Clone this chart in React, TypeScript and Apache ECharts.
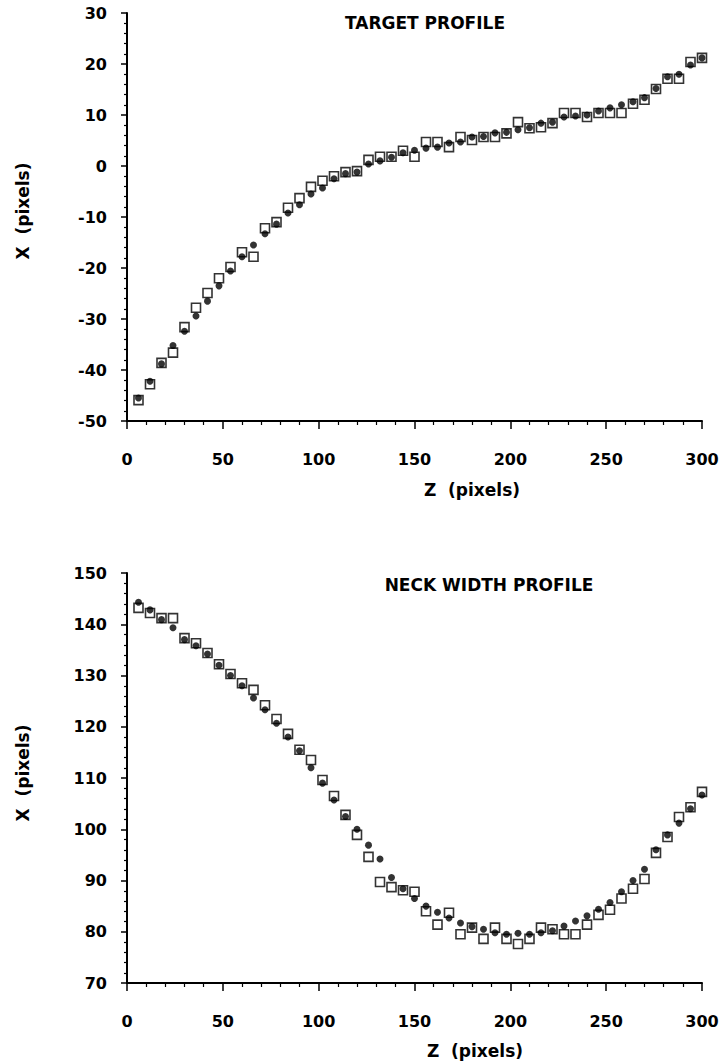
import React, { useEffect, useRef } from "react";
import * as echarts from "echarts";

// Z positions (pixels) of the sampled points
const zValues = [
  6, 12, 18, 24, 30, 36, 42, 48, 54, 60, 66, 72, 78, 84, 90, 96, 102, 108, 114, 120,
  126, 132, 138, 144, 150, 156, 162, 168, 174, 180, 186, 192, 198, 204, 210, 216, 222, 228, 234, 240,
  246, 252, 258, 264, 270, 276, 282, 288, 294, 300,
];

// TARGET PROFILE
const targetSquares = [
  -45.9, -42.8, -38.6, -36.6, -31.6, -27.8, -24.9, -22.0, -19.8, -16.9,
  -17.8, -12.2, -11.0, -8.2, -6.3, -4.1, -2.9, -2.0, -1.2, -1.0,
  1.2, 1.8, 1.8, 3.0, 1.8, 4.7, 4.7, 3.7, 5.7, 5.1,
  5.7, 5.7, 6.4, 8.6, 7.4, 7.6, 8.4, 10.4, 10.4, 9.6,
  10.4, 10.4, 10.4, 12.2, 13.0, 15.1, 17.1, 17.1, 20.4, 21.2,
];
const targetDots = [
  -45.5, -42.2, -38.8, -35.2, -32.4, -29.4, -26.5, -23.5, -20.6, -17.8,
  -15.5, -13.3, -11.4, -9.2, -7.6, -5.5, -4.3, -2.5, -1.5, -1.2,
  0.4, 1.0, 1.7, 2.6, 3.1, 3.5, 3.7, 4.5, 4.7, 5.7,
  5.8, 6.5, 6.6, 7.1, 7.5, 8.4, 8.6, 9.6, 9.8, 10.0,
  10.8, 11.4, 12.0, 12.6, 13.4, 15.2, 17.5, 18.0, 19.8, 21.2,
];

// NECK WIDTH PROFILE
const neckSquares = [
  143.2, 142.2, 141.2, 141.2, 137.3, 136.3, 134.4, 132.2, 130.3, 128.5,
  127.2, 124.2, 121.5, 118.6, 115.5, 113.5, 109.6, 106.5, 102.8, 98.9,
  94.6, 89.7, 88.7, 88.1, 87.8, 84.0, 81.4, 83.7, 79.5, 80.8,
  78.6, 80.8, 78.6, 77.6, 78.6, 80.8, 80.5, 79.5, 79.5, 81.4,
  83.3, 84.3, 86.5, 88.4, 90.3, 95.4, 98.5, 102.4, 104.3, 107.3,
];
const neckDots = [
  144.3, 142.8, 140.9, 139.3, 137.0, 135.8, 134.2, 132.0, 130.0, 128.0,
  125.6, 123.3, 120.7, 118.0, 115.3, 112.0, 109.0, 105.7, 102.5, 100.0,
  96.9, 94.2, 90.6, 88.4, 86.5, 85.0, 83.8, 82.7, 81.7, 81.0,
  80.5, 79.8, 79.5, 79.7, 79.5, 79.8, 80.2, 81.1, 82.1, 83.1,
  84.4, 85.7, 87.8, 90.0, 92.2, 96.0, 98.9, 101.2, 104.0, 106.7,
];

const FONT = "DejaVu Sans";

function pairs(xs: number[], ys: number[]) {
  return xs.map((x, i) => [x, ys[i]]);
}

export default function App() {
  const ref = useRef<HTMLDivElement>(null);

  useEffect(() => {
    if (!ref.current) return;
    const chart = echarts.init(ref.current, undefined, { renderer: "svg" });

    const axisLine = { show: true, onZero: false, lineStyle: { color: "#000", width: 2 } };
    const xAxisBase = {
      type: "value",
      min: 0,
      max: 300,
      interval: 50,
      axisLine,
      axisTick: { show: true, length: 8, lineStyle: { color: "#000", width: 1.5 } },
      minorTick: { show: true, splitNumber: 5, length: 4, lineStyle: { color: "#000", width: 1.2 } },
      splitLine: { show: false },
      axisLabel: {
        color: "#000",
        fontFamily: FONT,
        fontWeight: "bold",
        fontSize: 16,
        margin: 30,
      },
    };
    const yAxisBase = {
      type: "value",
      interval: 10,
      axisLine,
      axisTick: { show: true, length: 6, lineStyle: { color: "#000", width: 1.5 } },
      minorTick: { show: true, splitNumber: 5, length: 3, lineStyle: { color: "#000", width: 1.2 } },
      splitLine: { show: false },
      axisLabel: {
        color: "#000",
        fontFamily: FONT,
        fontWeight: "bold",
        fontSize: 16,
        margin: 20,
      },
    };

    const squareStyle = {
      type: "scatter",
      symbol: "rect",
      symbolSize: 9,
      itemStyle: { color: "#fff", borderColor: "#000", borderWidth: 1.6 },
      z: 2,
    };
    const dotStyle = {
      type: "scatter",
      symbol: "circle",
      symbolSize: 7,
      itemStyle: { color: "#000" },
      z: 3,
    };

    const textStyle = (t: string, size: number) => ({
      text: t,
      fill: "#000",
      font: `bold ${size}px "${FONT}"`,
      align: "center",
      verticalAlign: "middle",
    });

    chart.setOption({
      animation: false,
      backgroundColor: "#fff",
      grid: [
        { left: 127, top: 13, width: 575, height: 408 },
        { left: 127, top: 573, width: 575, height: 410 },
      ],
      xAxis: [
        { ...xAxisBase, gridIndex: 0 },
        { ...xAxisBase, gridIndex: 1 },
      ],
      yAxis: [
        { ...yAxisBase, gridIndex: 0, min: -50, max: 30 },
        { ...yAxisBase, gridIndex: 1, min: 70, max: 150 },
      ],
      series: [
        { ...squareStyle, name: "target squares", xAxisIndex: 0, yAxisIndex: 0, data: pairs(zValues, targetSquares) },
        { ...dotStyle, name: "target dots", xAxisIndex: 0, yAxisIndex: 0, data: pairs(zValues, targetDots) },
        { ...squareStyle, name: "neck squares", xAxisIndex: 1, yAxisIndex: 1, data: pairs(zValues, neckSquares) },
        { ...dotStyle, name: "neck dots", xAxisIndex: 1, yAxisIndex: 1, data: pairs(zValues, neckDots) },
      ],
      graphic: [
        { type: "text", x: 425, y: 23, style: textStyle("TARGET PROFILE", 17) },
        { type: "text", x: 489, y: 585, style: textStyle("NECK WIDTH PROFILE", 17) },
        { type: "text", x: 23, y: 211, rotation: Math.PI / 2, style: textStyle("X  (pixels)", 17) },
        { type: "text", x: 23, y: 773, rotation: Math.PI / 2, style: textStyle("X  (pixels)", 17) },
        { type: "text", x: 472, y: 490, style: textStyle("Z  (pixels)", 17) },
        { type: "text", x: 475, y: 1051, style: textStyle("Z  (pixels)", 17) },
      ],
    });

    return () => chart.dispose();
  }, []);

  return (
    <div
      ref={ref}
      style={{ position: "absolute", left: 0, top: 0, width: 725, height: 1063, background: "#fff" }}
    />
  );
}
